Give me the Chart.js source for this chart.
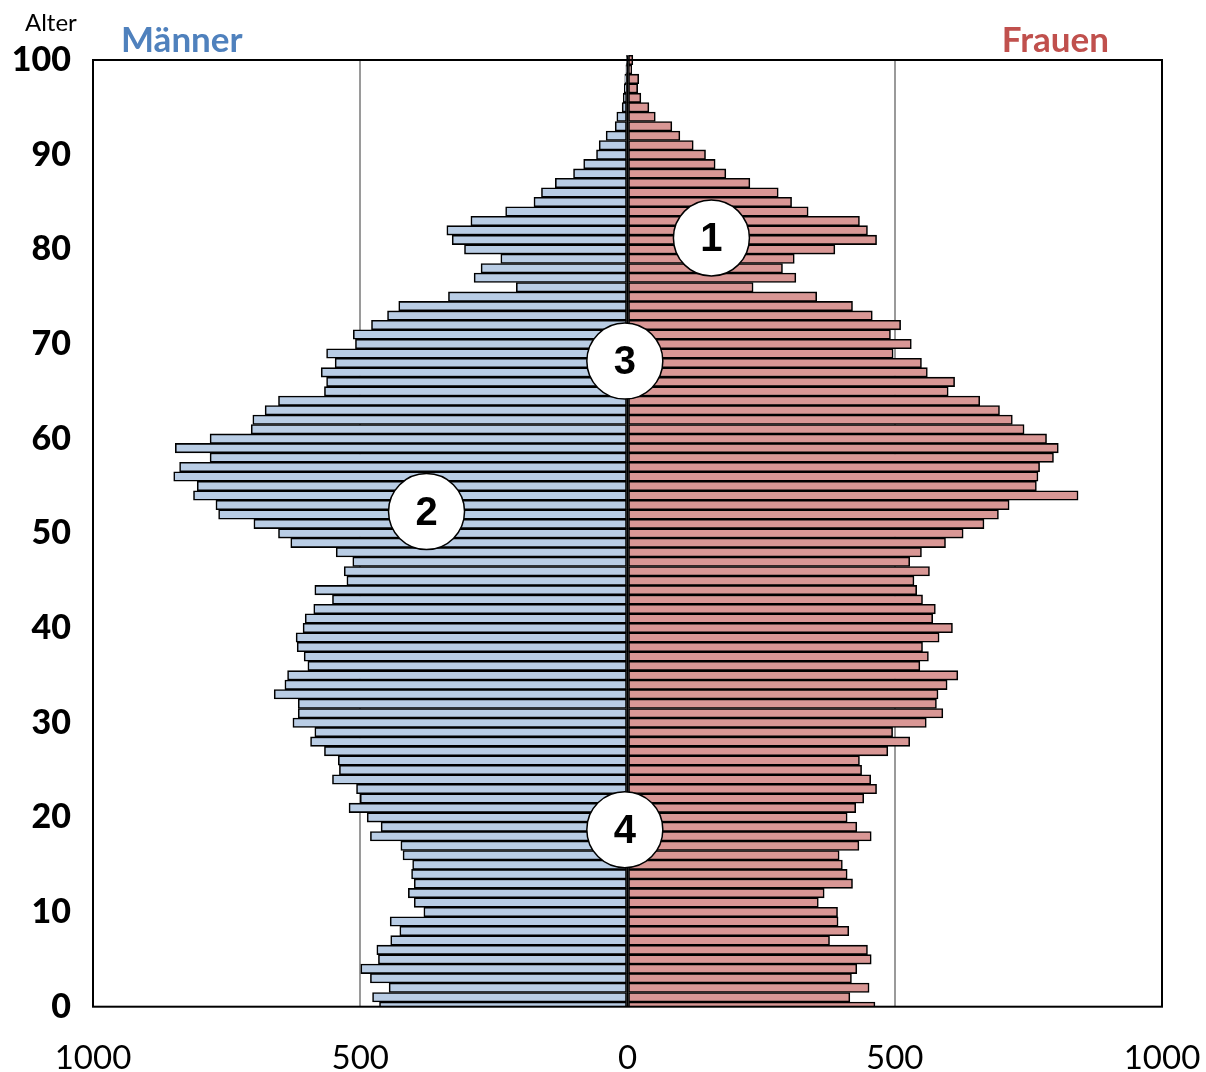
<!DOCTYPE html>
<html>
<head>
<meta charset="utf-8">
<script src="https://cdn.jsdelivr.net/npm/chart.js@4.4.1/dist/chart.umd.min.js"></script>
<style>
  html, body { margin: 0; padding: 0; background: #fff; }
  #wrap { width: 1206px; height: 1072px; position: relative; }
</style>
</head>
<body>
<div id="wrap"><canvas id="chart" width="1206" height="1072"></canvas></div>
<script>
// ages 0..100, bottom to top
const ages = Array.from({ length: 101 }, (_, i) => i);

const men = [
  464, 477, 446, 481, 499, 466, 469, 443, 426, 444,
  381, 399, 410, 399, 404, 402, 420, 424, 481, 461,
  487, 521, 500, 507, 552, 539, 541, 567, 593, 585,
  626, 616, 616, 661, 641, 636, 598, 605, 618, 620,
  607, 603, 587, 552, 585, 525, 530, 514, 545, 630,
  653, 699, 765, 770, 812, 805, 849, 838, 781, 846,
  781, 704, 701, 678, 653, 567, 563, 573, 547, 563,
  509, 513, 479, 449, 428, 335, 208, 287, 274, 237,
  305, 328, 338, 293, 228, 175, 161, 135, 101, 82,
  58, 53, 40, 23, 20, 10, 8, 6, 5, 3,
  2,
];

const women = [
  463, 416, 452, 419, 429, 456, 449, 378, 414, 394,
  393, 357, 368, 421, 411, 402, 396, 433, 456, 429,
  411, 427, 442, 466, 455, 438, 434, 487, 528, 496,
  559, 590, 578, 581, 598, 618, 547, 563, 552, 583,
  608, 571, 576, 552, 541, 536, 565, 528, 550, 595,
  628, 667, 694, 714, 843, 765, 768, 771, 797, 806,
  784, 742, 720, 696, 659, 600, 612, 561, 550, 497,
  531, 492, 511, 458, 421, 354, 235, 315, 290, 312,
  388, 466, 449, 434, 338, 307, 282, 229, 184, 164,
  146, 123, 98, 83, 52, 40, 25, 19, 21, 8,
  10,
];

// numbered circles (x in persons, y in age)
const markerLabels = ["1", "2", "3", "4"];
const markerX = [157, -376, -5, -5];
const markerAge = [81.2, 52.3, 68.2, 18.7];

const FONT = "Lato, 'Open Sans', sans-serif";

const overlay = {
  id: "overlay",
  afterDatasetsDraw(chart) {
    const { ctx, chartArea: a, scales: { x, y } } = chart;
    ctx.save();
    // centre line
    const x0 = x.getPixelForValue(0);
    ctx.strokeStyle = "#000";
    ctx.lineWidth = 2;
    ctx.beginPath();
    ctx.moveTo(x0, a.bottom);
    ctx.lineTo(x0, y.getPixelForValue(100.5));
    ctx.stroke();

    ctx.strokeRect(a.left, a.top, a.right - a.left, a.bottom - a.top);

    markerLabels.forEach((lab, i) => {
      const cx = x.getPixelForValue(markerX[i]);
      const cy = y.getPixelForValue(markerAge[i]);
      ctx.beginPath();
      ctx.arc(cx, cy, 38, 0, Math.PI * 2);
      ctx.fillStyle = "#fff";
      ctx.fill();
      ctx.lineWidth = 1.5;
      ctx.strokeStyle = "#000";
      ctx.stroke();
      ctx.fillStyle = "#000";
      ctx.font = "bold 40px 'Liberation Sans', Arial, sans-serif";
      ctx.textAlign = "center";
      ctx.textBaseline = "middle";
      ctx.fillText(lab, cx, cy + 2);
    });

    ctx.textBaseline = "alphabetic";
    ctx.textAlign = "left";
    ctx.fillStyle = "#000";
    ctx.font = `24px ${FONT}`;
    ctx.fillText("Alter", 25, 31);
    ctx.font = `bold 35px ${FONT}`;
    ctx.fillStyle = "#4f81bd";
    ctx.fillText("Männer", 121, 52);
    ctx.fillStyle = "#c0504d";
    ctx.textAlign = "right";
    ctx.fillText("Frauen", 1109, 52);
    ctx.restore();
  },
};

const barStyle = {
  borderColor: "#000",
  borderWidth: 1.6,
  borderSkipped: false,
  barPercentage: 1,
  categoryPercentage: 1,
  clip: { left: false, right: false, top: false, bottom: 0 },
};

new Chart(document.getElementById("chart"), {
  type: "bar",
  data: {
    datasets: [
      {
        label: "Männer",
        data: ages.map((a, i) => ({ y: a, x: -men[i] })),
        backgroundColor: "#b9cde5",
        ...barStyle,
      },
      {
        label: "Frauen",
        data: ages.map((a, i) => ({ y: a, x: women[i] })),
        backgroundColor: "#d99795",
        ...barStyle,
      },
    ],
  },
  options: {
    indexAxis: "y",
    responsive: false,
    animation: false,
    layout: { padding: { top: 60, right: 44, bottom: 0, left: 0 } },
    plugins: { legend: { display: false }, tooltip: { enabled: false } },
    scales: {
      x: {
        type: "linear",
        min: -1000,
        max: 1000,
        stacked: true,
        border: { display: false },
        grid: {
          drawTicks: false,
          lineWidth: 2,
          color: (c) => (Math.abs(c.tick.value) === 500 ? "#9a9a9a" : "rgba(0,0,0,0)"),
        },
        ticks: {
          stepSize: 500,
          maxRotation: 0,
          padding: 32,
          color: "#000",
          font: { family: FONT, size: 33 },
          callback: (v) => Math.abs(v),
        },
        afterFit: (s) => {
          s.height = 65.3;
          s.paddingLeft = 0;
          s.paddingRight = 0;
        },
      },
      y: {
        type: "linear",
        min: 0,
        max: 100,
        offset: false,
        stacked: true,
        border: { display: false },
        grid: { display: false, drawTicks: false, offset: false },
        ticks: {
          stepSize: 10,
          padding: 22,
          color: "#000",
          font: { family: FONT, size: 34, weight: "900" },
        },
        afterFit: (s) => {
          s.width = 93;
          s.paddingTop = 0;
          s.paddingBottom = 0;
        },
      },
    },
  },
  plugins: [overlay],
});
</script>
</body>
</html>
